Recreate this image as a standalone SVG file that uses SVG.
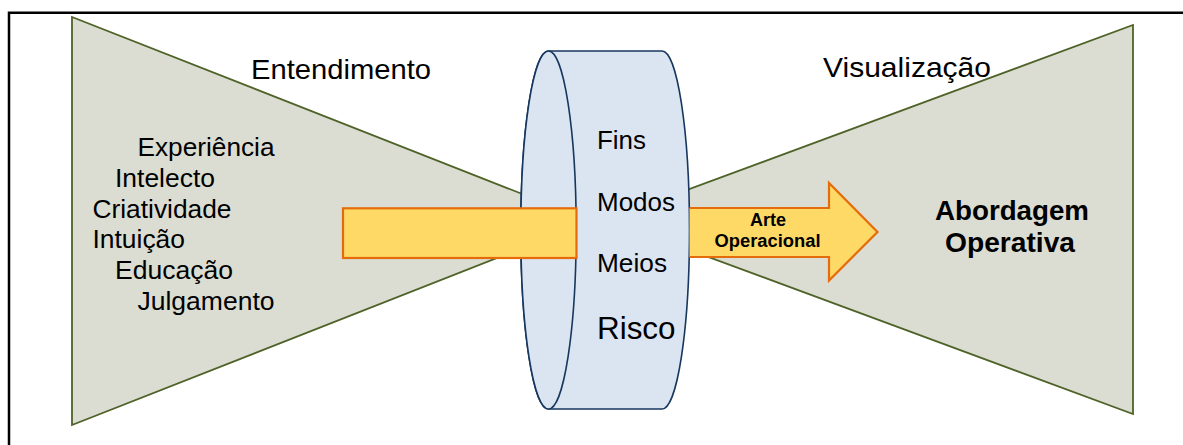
<svg xmlns="http://www.w3.org/2000/svg" width="1183" height="445" viewBox="0 0 1183 445">
  <style>
    .txt { font-family: "Liberation Sans", Arial, sans-serif; fill: #000; }
    .bold { font-weight: bold; }
    .funnel { fill: #dbddd2; stroke: #4f6228; stroke-width: 1.8; stroke-linejoin: miter; }
    .drum { fill: #dbe5f1; stroke: #17375e; stroke-width: 1.6; }
    .flow { fill: #ffd966; stroke: #e46c0a; stroke-width: 2.2; stroke-linejoin: miter; }
  </style>
  <rect x="0" y="0" width="1183" height="445" fill="#ffffff"/>
  <!-- outer frame (top and left edges) -->
  <path d="M9,445 V12.7 H1183" fill="none" stroke="#000" stroke-width="2.5"/>

  <!-- left funnel: understanding -->
  <g id="entendimento">
    <polygon class="funnel" points="72,17 72,425 591,221"/>
    <text class="txt" x="251" y="78.5" font-size="28" textLength="180" lengthAdjust="spacingAndGlyphs">Entendimento</text>
    <text class="txt" x="137.5" y="156" font-size="26" textLength="137" lengthAdjust="spacingAndGlyphs">Experiência</text>
    <text class="txt" x="115" y="186.8" font-size="26" textLength="100" lengthAdjust="spacingAndGlyphs">Intelecto</text>
    <text class="txt" x="92.5" y="217.6" font-size="26" textLength="139" lengthAdjust="spacingAndGlyphs">Criatividade</text>
    <text class="txt" x="92.5" y="248.4" font-size="26" textLength="92.5" lengthAdjust="spacingAndGlyphs">Intuição</text>
    <text class="txt" x="115" y="279.2" font-size="26" textLength="118" lengthAdjust="spacingAndGlyphs">Educação</text>
    <text class="txt" x="137.5" y="310" font-size="26" textLength="137" lengthAdjust="spacingAndGlyphs">Julgamento</text>
  </g>

  <!-- right funnel: visualization -->
  <g id="visualizacao">
    <polygon class="funnel" points="1133,25 1133,414 607,219.5"/>
    <text class="txt" x="823" y="77" font-size="28" textLength="168" lengthAdjust="spacingAndGlyphs">Visualização</text>
    <text class="txt bold" x="1012" y="220" font-size="28" text-anchor="middle" textLength="154" lengthAdjust="spacingAndGlyphs">Abordagem</text>
    <text class="txt bold" x="1010" y="252" font-size="28" text-anchor="middle" textLength="130" lengthAdjust="spacingAndGlyphs">Operativa</text>
  </g>

  <!-- drum: ends, ways, means, risk -->
  <g id="cilindro">
    <path class="drum" d="M548.5,51 H662 A27.5,179 0 0 1 662,409 H548.5 A27.7,179 0 0 1 548.5,51 Z"/>
    <ellipse class="drum" cx="548.5" cy="230" rx="27.7" ry="179"/>
    <text class="txt" x="597" y="149.3" font-size="26" textLength="49" lengthAdjust="spacingAndGlyphs">Fins</text>
    <text class="txt" x="597" y="210.7" font-size="26" textLength="78" lengthAdjust="spacingAndGlyphs">Modos</text>
    <text class="txt" x="597" y="271.7" font-size="26" textLength="70" lengthAdjust="spacingAndGlyphs">Meios</text>
    <text class="txt" x="597" y="339.3" font-size="31" textLength="78.5" lengthAdjust="spacingAndGlyphs">Risco</text>
  </g>

  <!-- flow through the drum -->
  <g id="conectores">
    <rect class="flow" x="343" y="208.3" width="233.5" height="49.7"/>
    <path class="flow" d="M689.5,208 H829 V183 L877.5,232 L829,280.5 V257 H689.5"/>
    <text class="txt bold" x="768" y="225.7" font-size="18" text-anchor="middle" textLength="36" lengthAdjust="spacingAndGlyphs">Arte</text>
    <text class="txt bold" x="767.5" y="247.3" font-size="18" text-anchor="middle" textLength="106" lengthAdjust="spacingAndGlyphs">Operacional</text>
  </g>
</svg>
